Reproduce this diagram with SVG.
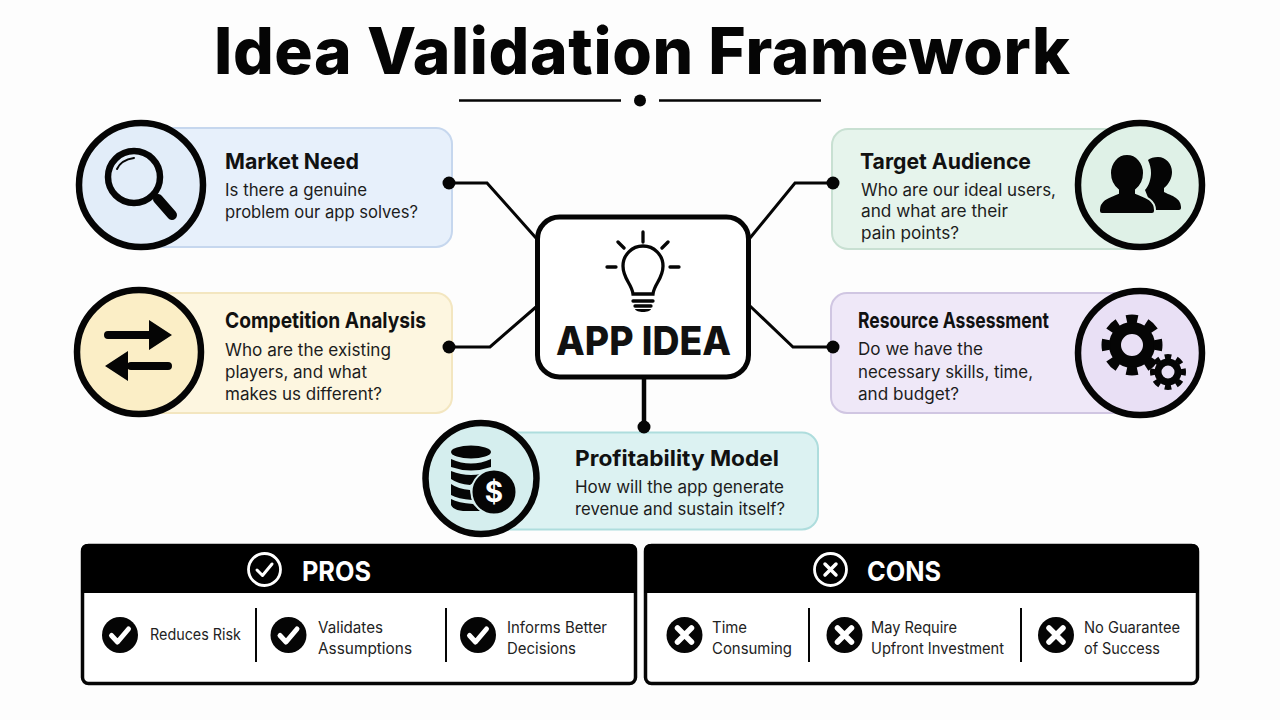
<svg xmlns="http://www.w3.org/2000/svg" width="1280" height="720" viewBox="0 0 1280 720">
<style>
text{font-family:Inter,"Noto Sans","Liberation Sans",sans-serif;fill:#111}
.h{font-size:22px;font-weight:700}
.b{font-size:17px;fill:#1c1c1c}
.s{font-size:15.500px;fill:#222}
.hd{font-size:27px;font-weight:700;fill:#fff}
.ring{stroke:#050505;stroke-width:6.500}
.line{fill:none;stroke:#050505;stroke-width:3;stroke-linejoin:miter}
.ic{fill:none;stroke:#050505;stroke-linecap:round}
.w{fill:none;stroke:#fff;stroke-linecap:round;stroke-linejoin:round}
</style>
<defs>
<g id="chk"><circle r="18" fill="#050505"/><path class="w" stroke-width="5" d="M-8.500 0.500L-2.500 7L8.500-6"/></g>
<g id="crs"><circle r="18" fill="#050505"/><path class="w" stroke-width="5.500" d="M-7-7L7 7M7-7L-7 7"/></g>
</defs>
<rect width="1280" height="720" fill="#fdfdfd"/>
<g id="title">
<text x="642" y="74" text-anchor="middle" font-size="64" font-weight="800" textLength="856" lengthAdjust="spacing" style="fill:#050505">Idea Validation Framework</text>
<path d="M459 100.500H621M659 100.500H821" stroke="#050505" stroke-width="2.500"/>
<circle cx="640" cy="100.500" r="6" fill="#050505"/>
</g>
<g id="connectors">
<path class="line" d="M449 183H487L536 238"/>
<path class="line" d="M449 347H490L536 307"/>
<path class="line" d="M833 183H795L750 238"/>
<path class="line" d="M833 347H793L750 306"/>
<path class="line" d="M644 378V427" style="stroke-width:4.500"/>
</g>
<g id="market-need">
<rect x="130" y="128" width="322" height="119" rx="16" fill="#e7f0fb" stroke="#c6d7ee" stroke-width="2"/>
<circle cx="141" cy="185" r="62" fill="#e2edf9" class="ring"/>
<circle cx="134" cy="177" r="26" fill="none" stroke="#050505" stroke-width="6.500"/>
<path class="ic" stroke-width="2" d="M117 169Q121 160 134 158"/>
<path class="ic" stroke-width="10" d="M158 199L172 215"/>
<text class="h" x="225" y="169" textLength="134" lengthAdjust="spacingAndGlyphs">Market Need</text>
<text class="b" x="225" y="196" textLength="142" lengthAdjust="spacingAndGlyphs">Is there a genuine</text>
<text class="b" x="225" y="218" textLength="193" lengthAdjust="spacingAndGlyphs">problem our app solves?</text>
<circle cx="449" cy="183" r="6.500" fill="#050505"/>
</g>
<g id="competition-analysis">
<rect x="130" y="293" width="322" height="120" rx="16" fill="#fdf6e0" stroke="#f3e6c0" stroke-width="2"/>
<circle cx="139" cy="352" r="62" fill="#fbeec6" class="ring"/>
<path class="ic" stroke-width="8" d="M108 335H150M131 366H168"/>
<path fill="#050505" d="M149 320L172 335L149 350ZM128 351L105 366L128 381Z"/>
<text class="h" x="225" y="328" textLength="201" lengthAdjust="spacingAndGlyphs">Competition Analysis</text>
<text class="b" x="225" y="356" textLength="166" lengthAdjust="spacingAndGlyphs">Who are the existing</text>
<text class="b" x="225" y="378" textLength="142" lengthAdjust="spacingAndGlyphs">players, and what</text>
<text class="b" x="225" y="400" textLength="157" lengthAdjust="spacingAndGlyphs">makes us different?</text>
<circle cx="449" cy="347" r="6.500" fill="#050505"/>
</g>
<g id="target-audience">
<rect x="832" y="129" width="320" height="120" rx="16" fill="#e6f4ec" stroke="#c8e0d2" stroke-width="2"/>
<circle cx="1140" cy="185" r="62" fill="#dff1e7" class="ring"/>
<path fill="#050505" d="M1158 157c8 0 14 7 14 15c0 6-3 12-8 16v4c5 3 17 5 17 15v1c0 1-1 2-2 2h-26l-8-20c4-4 6-12 6-17c0-4-1-9-3-13c2-2 6-3 10-3z"/>
<path fill="#050505" stroke="#dff1e7" stroke-width="2" d="M1127 154c10 0 17 9 17 19c0 7-3 13-8 17v3c7 3 19 6 19 17v1c0 2-1 3-3 3h-50c-2 0-3-1-3-3v-1c0-11 12-14 19-17v-3c-5-4-8-10-8-17c0-10 7-19 17-19z"/>
<text class="h" x="860" y="169" textLength="171" lengthAdjust="spacingAndGlyphs">Target Audience</text>
<text class="b" x="861" y="196" textLength="195" lengthAdjust="spacingAndGlyphs">Who are our ideal users,</text>
<text class="b" x="861" y="217" textLength="147" lengthAdjust="spacingAndGlyphs">and what are their</text>
<text class="b" x="861" y="239" textLength="98" lengthAdjust="spacingAndGlyphs">pain points?</text>
<circle cx="833" cy="183" r="6.500" fill="#050505"/>
</g>
<g id="resource-assessment">
<rect x="831" y="293" width="320" height="120" rx="16" fill="#efe8f8" stroke="#d0c6e2" stroke-width="2"/>
<circle cx="1140" cy="353" r="62" fill="#e9e0f5" class="ring"/>
<circle cx="1132" cy="345" r="17" fill="none" stroke="#050505" stroke-width="12"/>
<circle cx="1132" cy="345" r="26" fill="none" stroke="#050505" stroke-width="9" pathLength="80" stroke-dasharray="5.500 4.500" stroke-dashoffset="2.750"/>
<circle cx="1168" cy="372" r="10" fill="none" stroke="#050505" stroke-width="7"/>
<circle cx="1168" cy="372" r="15.500" fill="none" stroke="#050505" stroke-width="5" pathLength="80" stroke-dasharray="5.500 4.500" stroke-dashoffset="2.750"/>
<text class="h" x="858" y="328" textLength="191" lengthAdjust="spacingAndGlyphs">Resource Assessment</text>
<text class="b" x="858" y="355" textLength="125" lengthAdjust="spacingAndGlyphs">Do we have the</text>
<text class="b" x="858" y="378" textLength="175" lengthAdjust="spacingAndGlyphs">necessary skills, time,</text>
<text class="b" x="858" y="400" textLength="101" lengthAdjust="spacingAndGlyphs">and budget?</text>
<circle cx="833" cy="347" r="6.500" fill="#050505"/>
</g>
<g id="app-idea">
<rect x="537.500" y="217" width="211" height="160" rx="22" fill="#fff" stroke="#050505" stroke-width="5"/>
<path class="ic" stroke-width="3.300" d="M633 294C632 284 623 279 623 266A20 20 0 0 1 663 266C663 279 654 284 653 294Z"/>
<path class="ic" stroke-width="3.300" d="M643 232V242M618 242L624 248M668 242L662 248M607 267H616M670 267H679M633 301H653M635 306H651"/>
<path fill="#050505" d="M635 309H651C650 313 636 313 635 309Z"/>
<text x="643.500" y="355" text-anchor="middle" font-size="40" font-weight="800" textLength="175" lengthAdjust="spacingAndGlyphs">APP IDEA</text>
</g>
<g id="profitability-model">
<rect x="470" y="432.500" width="348" height="97" rx="16" fill="#dcf2f2" stroke="#aedddd" stroke-width="2"/>
<circle cx="481" cy="478.500" r="55.500" fill="#d5eeee" class="ring"/>
<g fill="#050505">
<ellipse cx="471" cy="452" rx="20" ry="6.500"/>
<path d="M451 459Q471 468 491 459V467Q471 474 451 467ZM451 471Q471 479 491 471V479H478L470 485Q458 484 451 479ZM451 484Q458 489 470 490L472 500Q458 499 451 495ZM451 499Q458 503 473 504L480 511H463Q453 510 451 505Z"/>
</g>
<circle cx="494" cy="492" r="22.500" fill="#050505" stroke="#d5eeee" stroke-width="2"/>
<text x="494" y="502" text-anchor="middle" font-size="28" font-weight="700" style="fill:#fff">$</text>
<text class="h" x="575" y="466" textLength="204" lengthAdjust="spacingAndGlyphs">Profitability Model</text>
<text class="b" x="575" y="493" textLength="209" lengthAdjust="spacingAndGlyphs">How will the app generate</text>
<text class="b" x="575" y="515" textLength="210" lengthAdjust="spacingAndGlyphs">revenue and sustain itself?</text>
<circle cx="644" cy="427" r="6.500" fill="#050505"/>
</g>
<g id="pros">
<rect x="82.500" y="545.500" width="553" height="138" rx="6" fill="#fff" stroke="#050505" stroke-width="3.500"/>
<path d="M81 593V550a6 6 0 0 1 6-6H631a6 6 0 0 1 6 6V593Z" fill="#000"/>
<circle cx="264.500" cy="569.500" r="16" fill="none" stroke="#fff" stroke-width="2.800"/>
<path class="w" stroke-width="3" d="M257 570L262.500 575.500L272 564"/>
<text class="hd" x="302" y="581" textLength="69" lengthAdjust="spacingAndGlyphs">PROS</text>
<use href="#chk" x="120" y="635"/><use href="#chk" x="288.500" y="635"/><use href="#chk" x="478" y="635"/>
<path d="M256 608V662M446 608V662" stroke="#050505" stroke-width="2"/>
<text class="s" x="150" y="640" textLength="91" lengthAdjust="spacingAndGlyphs">Reduces Risk</text>
<text class="s" x="318" y="633" textLength="65" lengthAdjust="spacingAndGlyphs">Validates</text><text class="s" x="318" y="654" textLength="94" lengthAdjust="spacingAndGlyphs">Assumptions</text>
<text class="s" x="507" y="633" textLength="100" lengthAdjust="spacingAndGlyphs">Informs Better</text><text class="s" x="507" y="654" textLength="69" lengthAdjust="spacingAndGlyphs">Decisions</text>
</g>
<g id="cons">
<rect x="645.500" y="545.500" width="552" height="138" rx="6" fill="#fff" stroke="#050505" stroke-width="3.500"/>
<path d="M644 593V550a6 6 0 0 1 6-6H1193a6 6 0 0 1 6 6V593Z" fill="#000"/>
<circle cx="830.500" cy="569.500" r="16" fill="none" stroke="#fff" stroke-width="2.800"/>
<path class="w" stroke-width="3.500" d="M825 564L836 575M836 564L825 575"/>
<text class="hd" x="867" y="581" textLength="74" lengthAdjust="spacingAndGlyphs">CONS</text>
<use href="#crs" x="684.500" y="635"/><use href="#crs" x="844.500" y="635"/><use href="#crs" x="1056" y="635"/>
<path d="M809 608V662M1021 608V662" stroke="#050505" stroke-width="2"/>
<text class="s" x="712" y="633" textLength="35" lengthAdjust="spacingAndGlyphs">Time</text><text class="s" x="712" y="654" textLength="80" lengthAdjust="spacingAndGlyphs">Consuming</text>
<text class="s" x="871" y="633" textLength="86" lengthAdjust="spacingAndGlyphs">May Require</text><text class="s" x="871" y="654" textLength="133" lengthAdjust="spacingAndGlyphs">Upfront Investment</text>
<text class="s" x="1084" y="633" textLength="96" lengthAdjust="spacingAndGlyphs">No Guarantee</text><text class="s" x="1084" y="654" textLength="76" lengthAdjust="spacingAndGlyphs">of Success</text>
</g>
</svg>
